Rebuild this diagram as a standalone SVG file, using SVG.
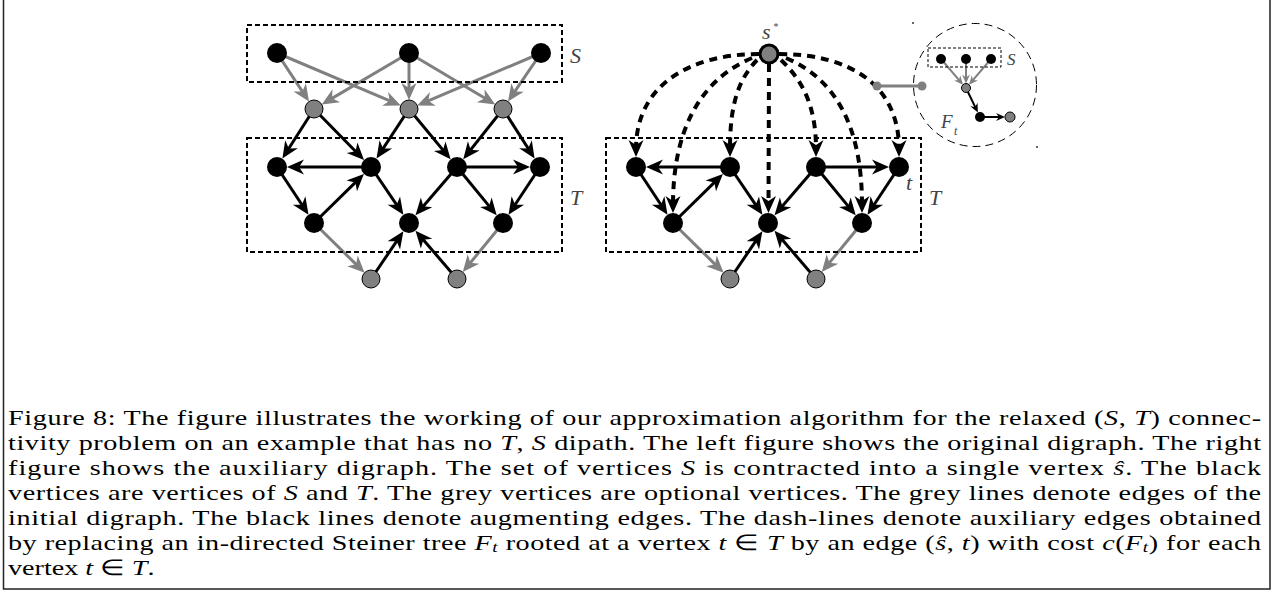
<svg xmlns="http://www.w3.org/2000/svg" width="1273" height="591" viewBox="0 0 1273 591">
<style>
.blk{stroke:#000;stroke-width:3;fill:none;marker-end:url(#ab)}
.gry{stroke:#808080;stroke-width:3;fill:none;marker-end:url(#ag)}
.dsh{stroke:#000;stroke-width:4;fill:none;stroke-dasharray:8 6;marker-end:url(#ab)}
.box{fill:none;stroke:#000;stroke-width:2;stroke-dasharray:5 3}
.nb{fill:#000}
.ng{fill:#808080;stroke:#000;stroke-width:1}
.lbl{font-family:"Liberation Serif","Times New Roman",serif;font-style:italic;fill:#444;font-size:22px}
.cap{font-family:"Liberation Serif","Times New Roman",serif;font-size:22px;fill:#000}
.i{font-style:italic}
</style>
<defs>
<marker id="ab" markerUnits="userSpaceOnUse" viewBox="-10 -9 20 18" markerWidth="20" markerHeight="18" refX="0" refY="0" orient="auto"><path d="M8,0 L-9,-7.5 L-4,0 L-9,7.5 Z" fill="#000"/></marker>
<marker id="ag" markerUnits="userSpaceOnUse" viewBox="-10 -9 20 18" markerWidth="20" markerHeight="18" refX="0" refY="0" orient="auto"><path d="M8,0 L-9,-7.5 L-4,0 L-9,7.5 Z" fill="#808080"/></marker>
<marker id="abs" markerUnits="userSpaceOnUse" viewBox="-6 -5 12 10" markerWidth="12" markerHeight="10" refX="0" refY="0" orient="auto"><path d="M4,0 L-5,-4 L-2,0 L-5,4 Z" fill="#000"/></marker>
<marker id="ags" markerUnits="userSpaceOnUse" viewBox="-6 -5 12 10" markerWidth="12" markerHeight="10" refX="0" refY="0" orient="auto"><path d="M4,0 L-5,-4 L-2,0 L-5,4 Z" fill="#808080"/></marker>
</defs>
<rect width="1273" height="591" fill="#fff"/>
<path d="M3.5,0 V589 H1270 V0" fill="none" stroke="#222" stroke-width="1.5"/>

<g id="connectors">
 <g id="left-edges">
  <path class="gry" d="M277,53 L304.6,94.8"/>
  <path class="gry" d="M277,53 L393.4,102.4"/>
  <path class="gry" d="M409,53 L328.6,100.4"/>
  <path class="gry" d="M409,53 L409,92"/>
  <path class="gry" d="M409,53 L488.4,100.3"/>
  <path class="gry" d="M541,53 L424.6,102.4"/>
  <path class="gry" d="M541,53 L512.5,94.9"/>
  <path class="blk" d="M314,109 L286.7,151.8"/>
  <path class="blk" d="M314,109 L358.4,154.2"/>
  <path class="blk" d="M409,109 L380.9,151.9"/>
  <path class="blk" d="M409,109 L445.5,153.1"/>
  <path class="blk" d="M503,109 L468.2,152.9"/>
  <path class="blk" d="M503,109 L530.3,151.8"/>
 </g>
 <g id="t-edges-left">
  <path class="blk" d="M371,167 L295,167"/>
  <path class="blk" d="M457,167 L522,167"/>
  <path class="blk" d="M277,167 L304.1,208"/>
  <path class="blk" d="M314,223 L358.2,179.6"/>
  <path class="blk" d="M371,167 L398.9,208.1"/>
  <path class="blk" d="M457,167 L420.7,209.3"/>
  <path class="blk" d="M457,167 L491.6,209.1"/>
  <path class="blk" d="M540,167 L512.9,208"/>
  <path class="gry" d="M314,223 L358.9,267.1"/>
  <path class="gry" d="M503,223 L467.8,265.9"/>
  <path class="blk" d="M371,279 L398.9,237.9"/>
  <path class="blk" d="M457,279 L420.7,236.7"/>
 </g>
 <g id="t-edges-right" transform="translate(359,0)">
  <path class="blk" d="M371,167 L295,167"/>
  <path class="blk" d="M457,167 L522,167"/>
  <path class="blk" d="M277,167 L304.1,208"/>
  <path class="blk" d="M314,223 L358.2,179.6"/>
  <path class="blk" d="M371,167 L398.9,208.1"/>
  <path class="blk" d="M457,167 L420.7,209.3"/>
  <path class="blk" d="M457,167 L491.6,209.1"/>
  <path class="blk" d="M540,167 L512.9,208"/>
  <path class="gry" d="M314,223 L358.9,267.1"/>
  <path class="gry" d="M503,223 L467.8,265.9"/>
  <path class="blk" d="M371,279 L398.9,237.9"/>
  <path class="blk" d="M457,279 L420.7,236.7"/>
 </g>
 <g id="aux-edges">
  <path class="dsh" d="M759,54 C690,54 636,85 636,149"/>
  <path class="dsh" d="M752,58 C700,80 673,130 673,205"/>
  <path class="dsh" d="M757,60 C738,80 730,105 730,149"/>
  <path class="dsh" d="M769,64 L768.5,205"/>
  <path class="dsh" d="M781,60 C802,80 816,105 816,149"/>
  <path class="dsh" d="M786,58 C838,80 862,130 862,205"/>
  <path class="dsh" d="M779,54 C850,54 899,85 899,149"/>
 </g>
 <g id="link">
  <line x1="877" y1="86" x2="922" y2="86" stroke="#808080" stroke-width="3"/>
  <circle cx="877" cy="86" r="4.5" fill="#808080"/>
  <circle cx="922" cy="86" r="4.5" fill="#808080"/>
 </g>
 <g id="inset-edges">
  <path d="M941,59 L960.4,81.6" stroke="#808080" stroke-width="2" fill="none" marker-end="url(#ags)"/>
  <path d="M966,59 L966,79.5" stroke="#808080" stroke-width="2" fill="none" marker-end="url(#ags)"/>
  <path d="M991,59 L971.6,81.6" stroke="#808080" stroke-width="2" fill="none" marker-end="url(#ags)"/>
  <path d="M966,88 L976.1,108.9" stroke="#000" stroke-width="2" fill="none" marker-end="url(#abs)"/>
  <path d="M980,117 L1001,117" stroke="#000" stroke-width="2" fill="none" marker-end="url(#abs)"/>
 </g>
</g>

<g id="left">
 <rect class="box" x="247" y="25" width="315" height="57"/>
 <rect class="box" x="247" y="138" width="315" height="114"/>
 <g id="S1"><circle class="nb" cx="277" cy="53" r="10"/></g>
 <g id="S2"><circle class="nb" cx="409" cy="53" r="10"/></g>
 <g id="S3"><circle class="nb" cx="541" cy="53" r="10"/></g>
 <g id="G1"><circle class="ng" cx="314" cy="109" r="9"/></g>
 <g id="G2"><circle class="ng" cx="409" cy="109" r="9"/></g>
 <g id="G3"><circle class="ng" cx="503" cy="109" r="9"/></g>
 <g id="T1"><circle class="nb" cx="277" cy="167" r="10"/></g>
 <g id="T2"><circle class="nb" cx="371" cy="167" r="10"/></g>
 <g id="T3"><circle class="nb" cx="457" cy="167" r="10"/></g>
 <g id="T4"><circle class="nb" cx="540" cy="167" r="10"/></g>
 <g id="B1"><circle class="nb" cx="314" cy="223" r="10"/></g>
 <g id="B2"><circle class="nb" cx="409" cy="223" r="10"/></g>
 <g id="B3"><circle class="nb" cx="503" cy="223" r="10"/></g>
 <g id="P1"><circle class="ng" cx="371" cy="279" r="9"/></g>
 <g id="P2"><circle class="ng" cx="457" cy="279" r="9"/></g>
 <text class="lbl" x="570" y="63">S</text>
 <text class="lbl" x="570" y="205">T</text>
</g>

<g id="right">
 <g transform="translate(359,0)">
  <rect class="box" x="247" y="138" width="315" height="114"/>
  <g id="rT1"><circle class="nb" cx="277" cy="167" r="10"/></g>
  <g id="rT2"><circle class="nb" cx="371" cy="167" r="10"/></g>
  <g id="rT3"><circle class="nb" cx="457" cy="167" r="10"/></g>
  <g id="rT4"><circle class="nb" cx="540" cy="167" r="10"/></g>
  <g id="rB1"><circle class="nb" cx="314" cy="223" r="10"/></g>
  <g id="rB2"><circle class="nb" cx="409" cy="223" r="10"/></g>
  <g id="rB3"><circle class="nb" cx="503" cy="223" r="10"/></g>
  <g id="rP1"><circle class="ng" cx="371" cy="279" r="9"/></g>
  <g id="rP2"><circle class="ng" cx="457" cy="279" r="9"/></g>
 </g>
 <g id="sstar">
  <circle cx="769" cy="54" r="9" fill="#808080" stroke="#000" stroke-width="3"/>
  <text class="lbl" x="762" y="38.5">s</text>
  <text class="lbl" x="773" y="30" style="font-size:10px">*</text>
 </g>
 <text class="lbl" x="906" y="190">t</text>
 <text class="lbl" x="929" y="205">T</text>
</g>

<g id="inset">
 <circle cx="975" cy="85" r="61.5" fill="none" stroke="#000" stroke-width="1" stroke-dasharray="8 5"/>
 <rect x="928" y="48" width="73" height="19" fill="none" stroke="#000" stroke-width="1" stroke-dasharray="3 2"/>
 <g id="iN1"><circle class="nb" cx="941" cy="59" r="5"/></g>
 <g id="iN2"><circle class="nb" cx="966" cy="59" r="5"/></g>
 <g id="iN3"><circle class="nb" cx="991" cy="59" r="5"/></g>
 <g id="ig"><circle class="ng" cx="966" cy="88" r="4.5"/></g>
 <g id="ik"><circle class="nb" cx="980" cy="117" r="5"/></g>
 <g id="iq"><circle class="ng" cx="1010" cy="117" r="5"/></g>
 <text class="lbl" x="1007" y="65" style="font-size:17px">S</text>
 <text class="lbl" x="941" y="128" style="font-size:19px">F</text>
 <text class="lbl" x="954" y="135" style="font-size:12px">t</text>
 <circle cx="913" cy="23" r="1" fill="#333"/>
 <circle cx="1037" cy="147" r="1" fill="#333"/>
</g>

<g id="caption" class="cap" transform="translate(8,0) scale(1.28,1)">
 <text x="0" y="425" textLength="979" lengthAdjust="spacing">Figure 8: The figure illustrates the working of our approximation algorithm for the relaxed (<tspan class="i">S</tspan>, <tspan class="i">T</tspan>) connec-</text>
 <text x="0" y="450" textLength="979" lengthAdjust="spacing">tivity problem on an example that has no <tspan class="i">T</tspan>, <tspan class="i">S</tspan> dipath. The left figure shows the original digraph. The right</text>
 <text x="0" y="475" textLength="979" lengthAdjust="spacing">figure shows the auxiliary digraph. The set of vertices <tspan class="i">S</tspan> is contracted into a single vertex <tspan class="i">ŝ</tspan>. The black</text>
 <text x="0" y="500" textLength="979" lengthAdjust="spacing">vertices are vertices of <tspan class="i">S</tspan> and <tspan class="i">T</tspan>. The grey vertices are optional vertices. The grey lines denote edges of the</text>
 <text x="0" y="525" textLength="979" lengthAdjust="spacing">initial digraph. The black lines denote augmenting edges. The dash-lines denote auxiliary edges obtained</text>
 <text x="0" y="550" textLength="979" lengthAdjust="spacing">by replacing an in-directed Steiner tree <tspan class="i">F</tspan><tspan font-size="15" dy="2.5" class="i">t</tspan><tspan dy="-2.5"> rooted at a vertex </tspan><tspan class="i">t</tspan> ∈ <tspan class="i">T</tspan> by an edge (<tspan class="i">ŝ</tspan>, <tspan class="i">t</tspan>) with cost <tspan class="i">c</tspan>(<tspan class="i">F</tspan><tspan font-size="15" dy="2.5" class="i">t</tspan><tspan dy="-2.5">) for each</tspan></text>
 <text x="0" y="575">vertex <tspan class="i">t</tspan> ∈ <tspan class="i">T</tspan>.</text>
</g>
</svg>
